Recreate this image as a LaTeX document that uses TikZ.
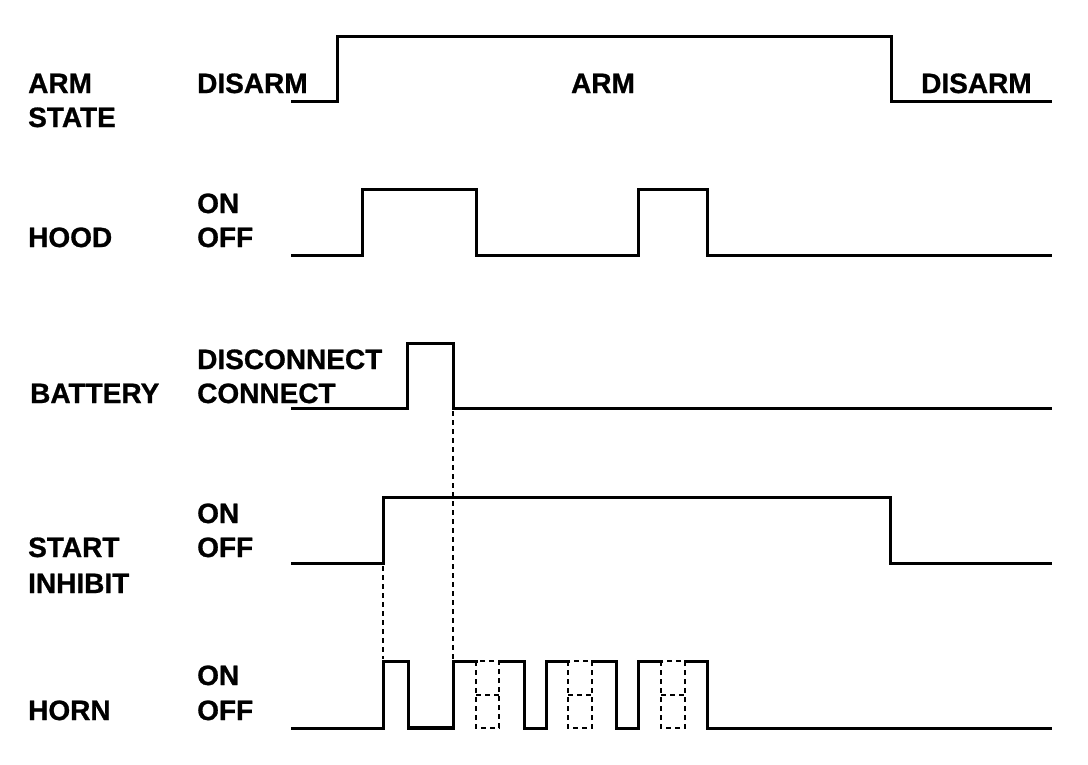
\documentclass[tikz,border=0pt]{standalone}
\usepackage{fontspec}
\setmainfont{Liberation Sans}
\newfontfamily\lblfont{Liberation Sans}[FakeBold=0.9]
\begin{document}
\begin{tikzpicture}[x=1pt,y=-1pt,
  lbl/.style={anchor=base west,inner sep=0pt,font=\lblfont\bfseries\fontsize{28}{34}\selectfont},
  wave/.style={line width=3pt,line cap=rect,line join=miter},
  guide/.style={line width=1.2pt,dash pattern=on 5pt off 4pt}]
\useasboundingbox (0,0) rectangle (1088,764);
% left labels
\node[lbl] (arm) at (28,93) {ARM};
\node[lbl] (state) at (28,127) {STATE};
\node[lbl] (hood) at (28,247) {HOOD};
\node[lbl] (batt) at (30,403) {BATTERY};
\node[lbl] (start) at (28,557) {START};
\node[lbl] (inh) at (28,593) {INHIBIT};
\node[lbl] (horn) at (28,720) {HORN};
% state labels
\node[lbl] (dis1) at (197,93) {DISARM};
\node[lbl,anchor=base] (armc) at (603,93) {ARM};
\node[lbl] (dis2) at (921,93) {DISARM};
\node[lbl] (hon) at (197,213) {ON};
\node[lbl] (hoff) at (197,247) {OFF};
\node[lbl] (bdis) at (197,369) {DISCONNECT};
\node[lbl] (bcon) at (197,403) {CONNECT};
\node[lbl] (son) at (197,523) {ON};
\node[lbl] (soff) at (197,557) {OFF};
\node[lbl] (ron) at (197,685) {ON};
\node[lbl] (roff) at (197,720) {OFF};
% waveforms
\draw[wave] (292,101) -- (337,101) -- (337,36) -- (891,36) -- (891,101) -- (1050,101);
\draw[wave] (292,255) -- (362,255) -- (362,189) -- (476,189) -- (476,255) -- (638,255) -- (638,189) -- (707,189) -- (707,255) -- (1050,255);
\draw[wave] (292,408) -- (407,408) -- (407,343) -- (453,343) -- (453,408) -- (1050,408);
\draw[wave] (292,563) -- (383,563) -- (383,497) -- (890,497) -- (890,563) -- (1050,563);
% horn
\draw[wave] (292,728) -- (383,728) -- (383,661) -- (408,661) -- (408,728) -- (453,728) -- (453,661) -- (476,661);
\draw[line width=4.5pt] (408,728) -- (453,728);
\draw[wave] (499,661) -- (524,661) -- (524,728) -- (546,728) -- (546,661) -- (568,661);
\draw[wave] (592,661) -- (616,661) -- (616,728) -- (638,728) -- (638,661) -- (661,661);
\draw[wave] (685,661) -- (707,661) -- (707,728) -- (1050,728);
% dashed boxes
\foreach \a/\b in {476/499,568/592,661/685}{
  \draw[guide] (\a,661) rectangle (\b,728);
  \draw[guide] (\a,695) -- (\b,695);
}
% guides
\draw[guide] (383,566) -- (383,659);
\draw[guide] (453,411) -- (453,659);
\end{tikzpicture}
\end{document}
